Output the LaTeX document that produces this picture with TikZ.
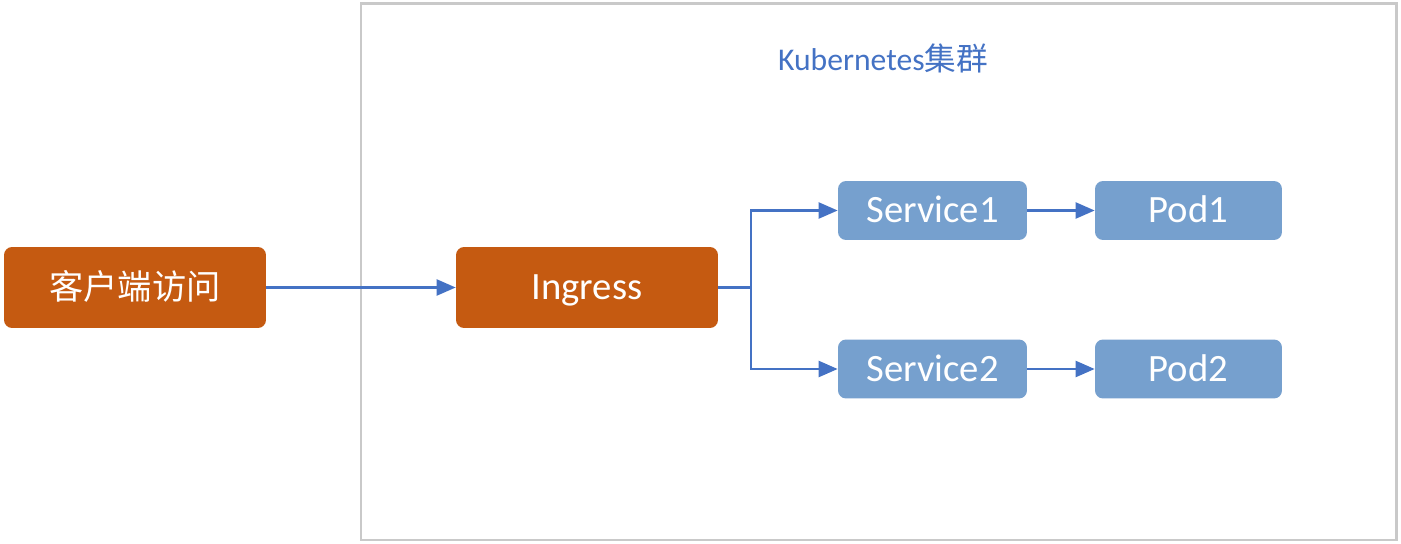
\documentclass[tikz,border=0pt]{standalone}
\usepackage{fontspec}
\setmainfont{Carlito}
\newfontfamily\cjk{Noto Sans CJK SC}
\usetikzlibrary{arrows.meta}
\definecolor{orangebox}{HTML}{C55A11}
\definecolor{bluebox}{HTML}{76A0CE}
\definecolor{conncol}{HTML}{4472C4}
\definecolor{framecol}{HTML}{C9C9C9}
\tikzset{
  box/.style={rounded corners=0.16cm, inner sep=0pt, text=white, font=\fontsize{22}{26}\selectfont,
    text height=18.6pt, text depth=4.4pt},
  bigbox/.style={box, fill=orangebox, minimum width=5.24cm, minimum height=1.62cm},
  smallbox/.style={box, fill=bluebox, minimum height=1.18cm},
  conn/.style={draw=conncol, line width=1.3pt, -{Triangle[length=0.38cm, width=0.32cm]}},
}
\begin{document}
\begin{tikzpicture}[x=0.02cm, y=-0.02cm]
\useasboundingbox (0,0) rectangle (1401,544);
\draw[framecol, line width=1.7pt] (361,3.5) rectangle (1396,540);
\node[text=conncol, font=\fontsize{18}{22}\selectfont, anchor=center] (title) at (883,58) {Kubernetes{\cjk 集群}};
\node[bigbox] (client) at (135,287.5) {\cjk\fontsize{19.5}{24}\selectfont 客户端访问};
\node[bigbox] (ingress) at (587,287.5) {Ingress};
\node[smallbox, minimum width=3.78cm] (svc1) at (932.5,210.5) {Service1};
\node[smallbox, minimum width=3.74cm] (pod1) at (1188.5,210.5) {Pod1};
\node[smallbox, minimum width=3.78cm] (svc2) at (932.5,369) {Service2};
\node[smallbox, minimum width=3.74cm] (pod2) at (1188.5,369) {Pod2};
\coordinate (j) at (751,287.5);
\draw[conn] (client) -- (ingress);
\draw[conn] (ingress.east) -- (j) |- (svc1.west);
\draw[conn] (j) |- (svc2.west);
\draw[conn] (svc1) -- (pod1);
\draw[conn] (svc2) -- (pod2);
\end{tikzpicture}
\end{document}
